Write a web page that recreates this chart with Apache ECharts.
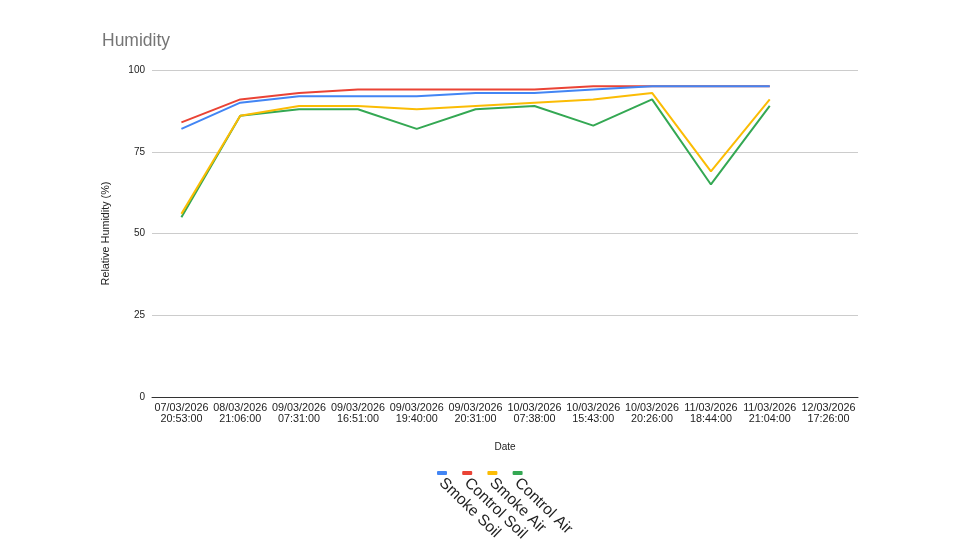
<!DOCTYPE html>
<html>
<head>
  <meta charset="utf-8" />
  <title>Humidity</title>
  <script src="https://cdn.jsdelivr.net/npm/echarts@6/dist/echarts.min.js"></script>
  <style>
    html, body { margin: 0; padding: 0; background: #fff; }
  </style>
</head>
<body>
<div id="main" style="width: 960px;height:540px;"></div>
<script type="text/javascript">
  // categories (dates)
  var dates = [
    '07/03/2026\n20:53:00', '08/03/2026\n21:06:00', '09/03/2026\n07:31:00',
    '09/03/2026\n16:51:00', '09/03/2026\n19:40:00', '09/03/2026\n20:31:00',
    '10/03/2026\n07:38:00', '10/03/2026\n15:43:00', '10/03/2026\n20:26:00',
    '11/03/2026\n18:44:00', '11/03/2026\n21:04:00', '12/03/2026\n17:26:00'
  ];
  var seriesNames = ['Smoke Soil', 'Control Soil', 'Smoke Air', 'Control Air'];
  var colors = ['#4285F4', '#EA4335', '#FBBC04', '#34A853'];

  var smokeSoil   = [82, 90, 92, 92, 92, 93, 93, 94, 95, 95, 95, null];
  var controlSoil = [84, 91, 93, 94, 94, 94, 94, 95, 95, 95, 95, null];
  var smokeAir    = [56, 86, 89, 89, 88, 89, 90, 91, 93, 69, 91, null];
  var controlAir  = [55, 86, 88, 88, 82, 88, 89, 83, 91, 65, 89, null];
  var allData = [smokeSoil, controlSoil, smokeAir, controlAir];

  var chart = echarts.init(document.getElementById('main'));
  var font = 'Liberation Sans, Arial, sans-serif';

  // legend drawn by hand: rotated labels under small colour bars
  var legendGraphics = [];
  for (var i = 0; i < seriesNames.length; i++) {
    var x0 = 437 + i * 25.2;
    legendGraphics.push({
      type: 'rect',
      left: x0, top: 471,
      shape: { width: 10, height: 4, r: 1 },
      style: { fill: colors[i] }
    });
    legendGraphics.push({
      type: 'text',
      x: x0 + 10, y: 475,
      rotation: -Math.PI / 4 + 0.02,
      style: {
        text: seriesNames[i],
        fill: '#222',
        font: '15.5px ' + font,
        textVerticalAlign: 'top'
      }
    });
  }

  var option = {
    animation: false,
    backgroundColor: '#fff',
    title: {
      text: 'Humidity',
      left: 97, top: 27,
      textStyle: { color: '#757575', fontSize: 17.5, fontWeight: 'normal', fontFamily: font }
    },
    grid: { left: 152, right: 102, top: 70, bottom: 143 },
    xAxis: {
      type: 'category',
      data: dates,
      boundaryGap: true,
      name: 'Date',
      nameLocation: 'middle',
      nameGap: 45,
      nameTextStyle: { color: '#222', fontSize: 10, fontFamily: font },
      axisLine: { lineStyle: { color: '#333' } },
      axisTick: { show: false },
      axisLabel: { color: '#222', fontSize: 10.8, fontFamily: font, interval: 0, margin: 6, lineHeight: 11 }
    },
    yAxis: {
      type: 'value',
      min: 0, max: 100, interval: 25,
      name: 'Relative Humidity (%)',
      nameLocation: 'middle',
      nameGap: 40,
      nameTextStyle: { color: '#222', fontSize: 10.8, fontFamily: font },
      axisLine: { show: false },
      axisTick: { show: false },
      axisLabel: { color: '#222', fontSize: 10, fontFamily: font, margin: 7 },
      splitLine: { lineStyle: { color: '#ccc' } }
    },
    series: seriesNames.map(function (n, i) {
      return {
        name: n,
        type: 'line',
        data: allData[i],
        showSymbol: false,
        lineStyle: { width: 2, color: colors[i] },
        itemStyle: { color: colors[i] },
        z: 10 - i
      };
    }),
    graphic: legendGraphics
  };

  option && chart.setOption(option);
</script>
</body>
</html>
